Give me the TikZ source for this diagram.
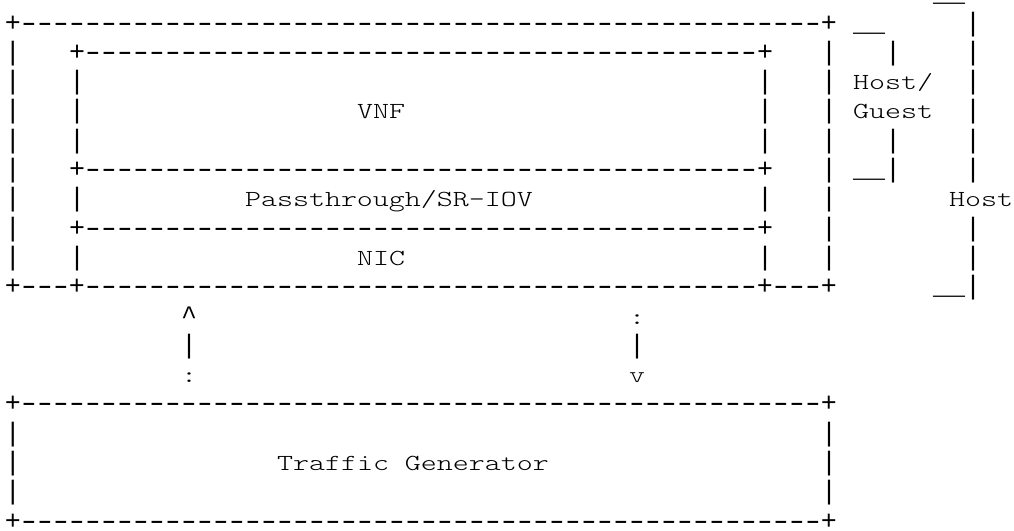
\documentclass[tikz,border=0pt]{standalone}
\usepackage{fontspec}
\usepackage{graphicx}
\newfontfamily\symfont{Liberation Mono}
\newfontfamily\wordfont{lmmonolt10-regular.otf}[FakeStretch=1.325]
\newcommand\dsh[1]{\foreach \n in {1,...,#1}{\makebox[16pt]{\scalebox{1.45}[1]{-}}}}
\tikzset{
  sym/.style={inner sep=0pt, outer sep=0pt, font=\symfont\fontsize{26.66}{29.3}\selectfont, anchor=base west},
  wrd/.style={inner sep=0pt, outer sep=0pt, font=\wordfont\fontsize{23}{29.3}\selectfont, anchor=base west}}
\newcommand\putrow[3]{\node[sym] (r#1c#2) at ({5+16*#2},{-(1.7+29.3*#1)}) {#3};}
\newcommand\putword[3]{\node[wrd] (w#1c#2) at ({5+16*#2},{-(1.7+29.3*#1)}) {#3};}
\begin{document}
\begin{tikzpicture}[x=1pt,y=1pt]
\useasboundingbox (0,0) rectangle (1014,-530);
% row 0
\putrow{0}{58}{\_\_}
% row 1
\putrow{1}{0}{+\dsh{50}+}
\putrow{1}{53}{\_\_}
\putrow{1}{60}{|}
% row 2
\putrow{2}{0}{|}
\putrow{2}{4}{+\dsh{42}+}
\putrow{2}{51}{|}
\putrow{2}{55}{|}
\putrow{2}{60}{|}
% row 3
\putrow{3}{0}{|}
\putrow{3}{4}{|}
\putrow{3}{47}{|}
\putrow{3}{51}{|}
\putword{3}{53}{Host/}
\putrow{3}{60}{|}
% row 4
\putrow{4}{0}{|}
\putrow{4}{4}{|}
\putword{4}{22}{VNF}
\putrow{4}{47}{|}
\putrow{4}{51}{|}
\putword{4}{53}{Guest}
\putrow{4}{60}{|}
% row 5
\putrow{5}{0}{|}
\putrow{5}{4}{|}
\putrow{5}{47}{|}
\putrow{5}{51}{|}
\putrow{5}{55}{|}
\putrow{5}{60}{|}
% row 6
\putrow{6}{0}{|}
\putrow{6}{4}{+\dsh{42}+}
\putrow{6}{51}{|}
\putrow{6}{53}{\_\_|}
\putrow{6}{60}{|}
% row 7
\putrow{7}{0}{|}
\putrow{7}{4}{|}
\putword{7}{15}{Passthrough/SR-IOV}
\putrow{7}{47}{|}
\putrow{7}{51}{|}
\putword{7}{59}{Host}
% row 8
\putrow{8}{0}{|}
\putrow{8}{4}{+\dsh{42}+}
\putrow{8}{51}{|}
\putrow{8}{60}{|}
% row 9
\putrow{9}{0}{|}
\putrow{9}{4}{|}
\putword{9}{22}{NIC}
\putrow{9}{47}{|}
\putrow{9}{51}{|}
\putrow{9}{60}{|}
% row 10
\putrow{10}{0}{+\dsh{3}+\dsh{42}+\dsh{3}+}
\putrow{10}{58}{\_\_|}
% rows 11-13
\putrow{11}{11}{\textasciicircum}
\putword{11}{39}{:}
\putrow{12}{11}{|}
\putrow{12}{39}{|}
\putword{13}{11}{:}
\putword{13}{39}{v}
% traffic generator
\putrow{14}{0}{+\dsh{50}+}
\putrow{15}{0}{|}
\putrow{15}{51}{|}
\putrow{16}{0}{|}
\putword{16}{17}{Traffic Generator}
\putrow{16}{51}{|}
\putrow{17}{0}{|}
\putrow{17}{51}{|}
\putrow{18}{0}{+\dsh{50}+}
\end{tikzpicture}
\end{document}
